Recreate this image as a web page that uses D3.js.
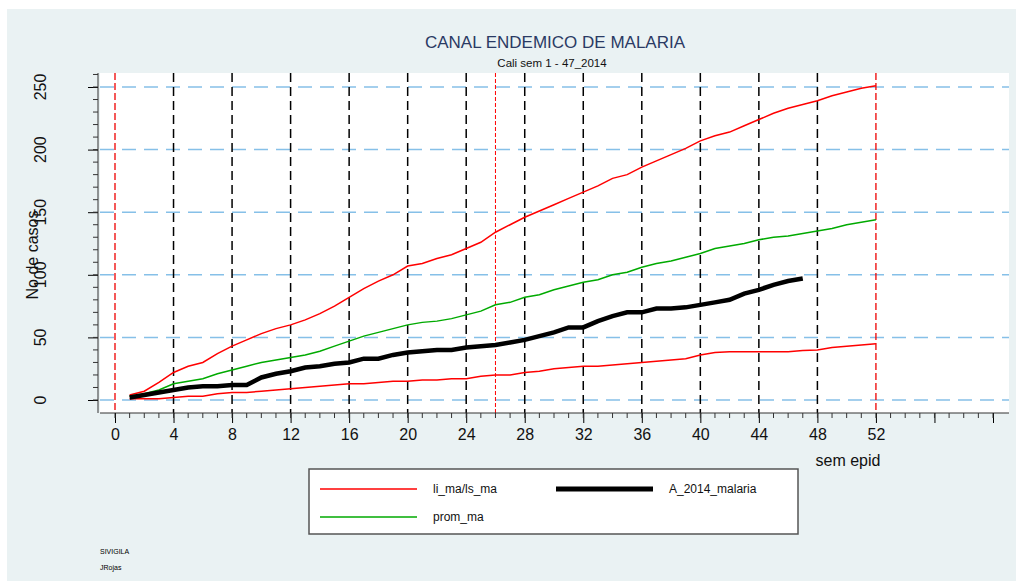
<!DOCTYPE html>
<html><head><meta charset="utf-8">
<script src="https://cdn.jsdelivr.net/npm/d3@7"></script>
<style>body{margin:0;background:#fff;font-family:"Liberation Sans",Arial,sans-serif}</style>
</head><body><svg id="c" width="1023" height="587"></svg>
<script>
const weeks = d3.range(1, 53);
const upper = [4,7,14,22,27,30,37,43,48,53,57,60,64,69,75,82,89,95,100,107,109,113,116,121,126,134,140,146,151,156,161,166,171,177,180,186,191,196,201,207,211,214,219,224,229,233,236,239,243,246,249,251];
const mean = [3,5,8,13,15,17,21,24,27,30,32,34,36,39,43,47,51,54,57,60,62,63,65,68,71,76,78,82,84,88,91,94,96,100,102,106,109,111,114,117,121,123,125,128,130,131,133,135,137,140,142,144];
const lower = [1,1,1,2,3,3,5,6,6,7,8,9,10,11,12,13,13,14,15,15,16,16,17,17,19,20,20,22,23,25,26,27,27,28,29,30,31,32,33,36,38,38.5,38.5,38.5,38.5,38.5,39.5,40,42,43,44,45];
const cases2014 = [2,4,6,8,10,11,11,12,12,18,21,23,26,27,29,30,33,33,36,38,39,40,40,42,43,44,46,48,51,54,58,58,63,67,70,70,73,73,74,76,78,80,85,88,92,95,97];
const xTicks = d3.range(0, 53, 4);
const yTicks = [0, 50, 100, 150, 200, 250];

const svg = d3.select("#c");
svg.append("rect").attr("x",7).attr("y",9).attr("width",1009).attr("height",572).attr("fill","#eaf2f3");
const x = d3.scaleLinear().domain([0, 60]).range([115, 993]);
const y = d3.scaleLinear().domain([0, 250]).range([400, 87]);
svg.append("rect").attr("x",100).attr("y",73).attr("width",909).attr("height",340).attr("fill","#fff");

svg.append("text").attr("x",555).attr("y",48).attr("text-anchor","middle").attr("font-size",17).attr("fill","#2a3a64").text("CANAL ENDEMICO DE MALARIA");
svg.append("text").attr("x",552).attr("y",67).attr("text-anchor","middle").attr("font-size",11.5).attr("fill","#111").text("Cali sem 1 - 47_2014");

// horizontal grid
svg.selectAll(".hg").data(yTicks).enter().append("line")
  .attr("x1",100).attr("x2",1009).attr("y1",d=>y(d)).attr("y2",d=>y(d))
  .attr("stroke","#86c0e8").attr("stroke-width",1.5).attr("stroke-dasharray","14,8");
// vertical lines
svg.selectAll(".vg").data(d3.range(4, 49, 4)).enter().append("line")
  .attr("x1",d=>x(d)).attr("x2",d=>x(d)).attr("y1",73).attr("y2",413)
  .attr("stroke","#000").attr("stroke-width",1.5).attr("stroke-dasharray","9,5");
svg.selectAll(".vr").data([0, 52]).enter().append("line")
  .attr("x1",d=>x(d)).attr("x2",d=>x(d)).attr("y1",73).attr("y2",413)
  .attr("stroke","#e00").attr("stroke-width",1.3).attr("stroke-dasharray","7,3");
svg.append("line").attr("x1",x(26)).attr("x2",x(26)).attr("y1",73).attr("y2",413)
  .attr("stroke","#f00").attr("stroke-width",1).attr("stroke-dasharray","4,2");

const line = arr => d3.line().x((d,i)=>x(i+1)).y(d=>y(d))(arr);
svg.append("path").attr("d",line(upper)).attr("fill","none").attr("stroke","#f00").attr("stroke-width",1.5);
svg.append("path").attr("d",line(lower)).attr("fill","none").attr("stroke","#f00").attr("stroke-width",1.5);
svg.append("path").attr("d",line(mean)).attr("fill","none").attr("stroke","#0a0").attr("stroke-width",1.5);
svg.append("path").attr("d",line(cases2014)).attr("fill","none").attr("stroke","#000").attr("stroke-width",4.5);

// axes
const xa = svg.append("g").attr("transform","translate(0,413)")
  .call(d3.axisBottom(x).tickValues(d3.range(0,61,4)).tickSize(10).tickFormat(d=>d<=52?d:""));
xa.select(".domain").attr("d","M100,0H1009").attr("stroke","#333");
xa.selectAll("text").attr("font-size",16).attr("dy","0.9em").attr("fill","#111");
xa.selectAll(".minor").data(d3.range(0,61)).enter().append("line")
  .attr("x1",d=>x(d)).attr("x2",d=>x(d)).attr("y2",5).attr("stroke","#333");
svg.append("text").attr("x",848).attr("y",466).attr("text-anchor","middle").attr("font-size",16).attr("fill","#111").text("sem epid");

const ya = svg.append("g").attr("transform","translate(98,0)")
  .call(d3.axisLeft(y).tickValues(yTicks).tickSize(10).tickFormat(""));
ya.select(".domain").attr("d","M0,73V413").attr("stroke","#333");
ya.selectAll(".minor").data(d3.range(0,261,10)).enter().append("line")
  .attr("x1",-5).attr("y1",d=>y(d)).attr("y2",d=>y(d)).attr("stroke","#333");
svg.selectAll(".yl").data(yTicks).enter().append("text")
  .attr("transform",d=>`translate(46,${y(d)}) rotate(-90)`).attr("text-anchor","middle")
  .attr("font-size",16).attr("fill","#111").text(d=>d);
svg.append("text").attr("transform","translate(38,255) rotate(-90)").attr("text-anchor","middle")
  .attr("font-size",16).attr("fill","#111").text("No de casos");

// legend
const lg = svg.append("g");
lg.append("rect").attr("x",309).attr("y",469).attr("width",489).attr("height",65).attr("fill","#fff").attr("stroke","#555").attr("stroke-width",1.5);
const leg = [
  {t:"li_ma/ls_ma", c:"#f00", w:1.5, x:320, y:489},
  {t:"A_2014_malaria", c:"#000", w:5, x:556, y:489},
  {t:"prom_ma", c:"#0a0", w:1.5, x:320, y:517}];
leg.forEach(d=>{
  lg.append("line").attr("x1",d.x).attr("x2",d.x+97).attr("y1",d.y).attr("y2",d.y).attr("stroke",d.c).attr("stroke-width",d.w);
  lg.append("text").attr("x",d.x+113).attr("y",d.y+4).attr("font-size",12).attr("fill","#111").text(d.t);
});
svg.append("text").attr("x",100).attr("y",554).attr("font-size",7).text("SIVIGILA");
svg.append("text").attr("x",100).attr("y",570).attr("font-size",7).text("JRojas");
</script></body></html>
